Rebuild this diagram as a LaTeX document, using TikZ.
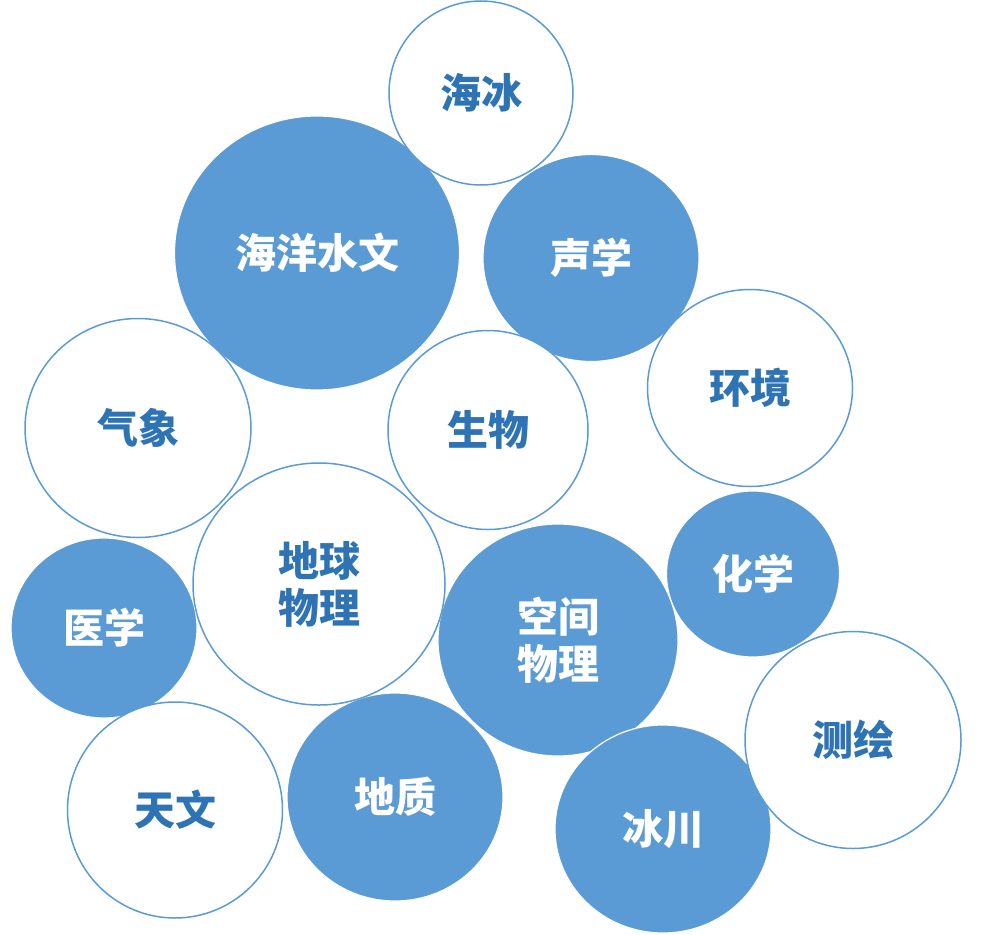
\documentclass[tikz,border=0pt]{standalone}
\usepackage{fontspec}
\setmainfont{Noto Sans CJK SC}
\usetikzlibrary{shapes.geometric}
\definecolor{bubblue}{HTML}{5B9BD5}
\definecolor{txtblue}{HTML}{2E74B5}
\tikzset{
  bub/.style={ellipse, inner sep=0pt, align=center, font=\fontsize{41}{47}\selectfont\bfseries},
  bluebub/.style={bub, fill=bubblue, draw=white, line width=1.2pt, text=white},
  whitebub/.style={bub, fill=white, draw=bubblue, line width=1.5pt, text=txtblue},
}
\begin{document}
\begin{tikzpicture}[x=1pt,y=-1pt]
\path[fill=white] (0,0) rectangle (981,934);
\useasboundingbox (0,0) rectangle (981,934);
% blue bubbles
\node[bluebub, minimum width=285pt, minimum height=274pt] (hyswen) at (317,253) {海洋水文};
\node[bluebub, minimum width=216pt, minimum height=207pt] (shengxue) at (591,258) {声学};
\node[bluebub, minimum width=186pt, minimum height=180pt] (yixue) at (104,628) {医学};
\node[bluebub, minimum width=240pt, minimum height=232pt] (kjwl) at (558,640) {空间\\物理};
\node[bluebub, minimum width=173pt, minimum height=166pt] (huaxue) at (753,574) {化学};
\node[bluebub, minimum width=216pt, minimum height=208pt] (dizhi) at (395,797) {地质};
\node[bluebub, minimum width=216pt, minimum height=208pt] (bingchuan) at (663,829) {冰川};
% white bubbles
\node[whitebub, minimum width=184pt, minimum height=184pt] (haibing) at (481,93) {海冰};
\node[whitebub, minimum width=205pt, minimum height=197pt] (huanjing) at (750,388) {环境};
\node[whitebub, minimum width=226pt, minimum height=219pt] (qixiang) at (138,428) {气象};
\node[whitebub, minimum width=200pt, minimum height=199pt] (shengwu) at (488,430) {生物};
\node[whitebub, minimum width=252pt, minimum height=242pt] (dqwl) at (319,584) {地球\\物理};
\node[whitebub, minimum width=216pt, minimum height=217pt] (cehui) at (853,740) {测绘};
\node[whitebub, minimum width=215pt, minimum height=216pt] (tianwen) at (175,810) {天文};
\end{tikzpicture}
\end{document}
